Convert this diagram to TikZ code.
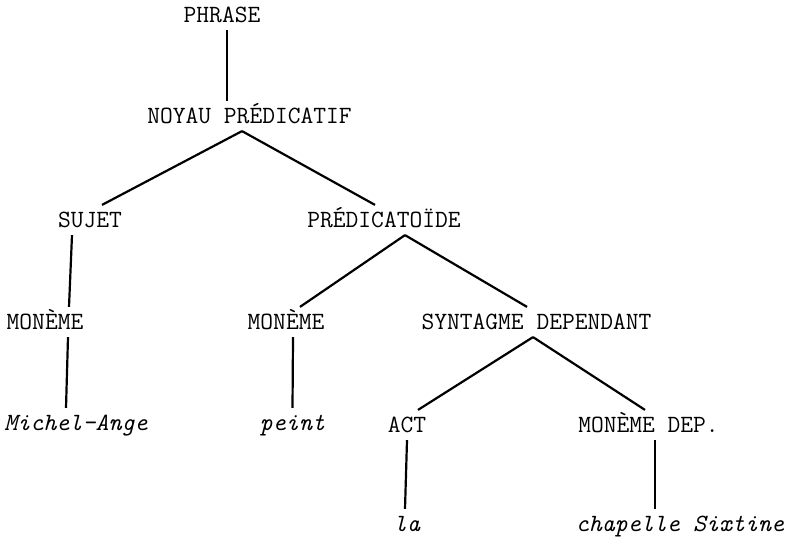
\documentclass[tikz,border=0pt]{standalone}
\usepackage{fontspec}
\begin{document}
\begin{tikzpicture}[x=0.5pt,y=-0.5pt,line width=1.1pt,
    every node/.style={anchor=base,inner xsep=0pt,inner ysep=3.5pt,
      text height=7pt,text depth=0pt,font=\fontsize{12.4}{14}\selectfont\ttfamily},
    leaf/.style={font=\fontsize{12.4}{14}\selectfont\ttfamily\itshape}]
  \useasboundingbox (0,0) rectangle (785,542);
  \draw
    (222,22) node (ph){PHRASE}
    (249.5,123) node (np){NOYAU PRÉDICATIF}
    (90,227) node (suj){SUJET}
    (384,227) node (pred){PRÉDICATOÏDE}
    (45,329) node (m1){MONÈME}
    (286,329) node (m2){MONÈME}
    (536.5,329) node (sd){SYNTAGME DEPENDANT}
    (76,430) node[leaf] (mich){Michel-Ange}
    (292.5,430) node[leaf] (pei){peint}
    (407,432) node (act){ACT}
    (648.5,432) node (md){MONÈME DEP.}
    (407,531) node[leaf] (la){la}
    (680,531) node[leaf] (chap){chapelle Sixtine};
  \begin{scope}[-]
    \draw ([xshift=2.5pt]ph.south) to ([xshift=-11.25pt]np.north);
    \draw ([xshift=-3.75pt]np.south) to ([xshift=6pt]suj.north);
    \draw ([xshift=-3.75pt]np.south) to ([xshift=-4.5pt]pred.north);
    \draw ([xshift=-9pt]suj.south) to ([xshift=12pt]m1.north);
    \draw ([xshift=11.5pt]m1.south) to ([xshift=-5pt]mich.north);
    \draw ([xshift=10.5pt]pred.south) to ([xshift=7pt]m2.north);
    \draw ([xshift=10.5pt]pred.south) to ([xshift=-4.75pt]sd.north);
    \draw ([xshift=3.5pt]m2.south) to (pei.north);
    \draw ([xshift=-1.75pt]sd.south) to ([xshift=5.5pt]act.north);
    \draw ([xshift=-1.75pt]sd.south) to ([xshift=-1.75pt]md.north);
    \draw (act.south) to ([xshift=-1pt]la.north);
    \draw ([xshift=3.25pt]md.south) to ([xshift=-12.5pt]chap.north);
  \end{scope}
\end{tikzpicture}
\end{document}
